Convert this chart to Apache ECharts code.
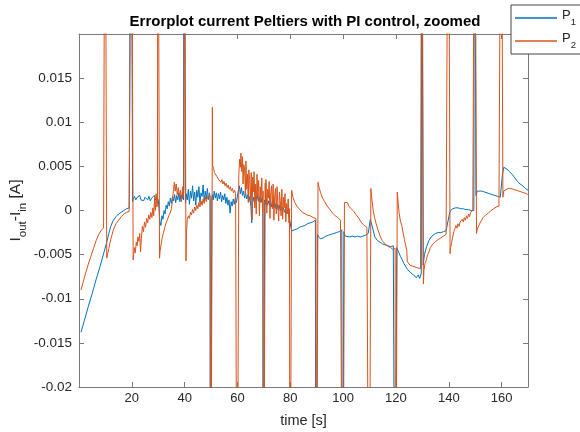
<!DOCTYPE html>
<html><head><meta charset="utf-8">
<script src="https://cdn.jsdelivr.net/npm/echarts@6/dist/echarts.min.js"></script>
<style>html,body{margin:0;padding:0;background:#fff}#c{width:580px;height:432px}</style>
</head><body><div id="c"></div>
<script>
const chartTitle = 'Errorplot current Peltiers with PI control, zoomed';
const seriesNames = ['P1', 'P2'];
const xTicks = [20, 40, 60, 80, 100, 120, 140, 160];
const yTicks = [-0.02, -0.015, -0.01, -0.005, 0, 0.005, 0.01, 0.015];

// P1: [time s, Iout-Iin A]
const p1Data = [
[0.75,-0.0138],[2,-0.0125],[3.5,-0.0109],[5,-0.0094],[6.5,-0.0078],[8,-0.0063],[9.5,-0.0047],[10.5,-0.0036],[11.3,-0.0026],[12,-0.0018],[13,-0.0011],[14,-0.0007],[15,-0.0004],[16,-0.0002],[17,0.0000],[18,0.0002],[19,0.0003],[19.6,0.0004],
[19.7,0.05],[20.0,0.05],
[20.3,0.0010],[20.5,0.0013],[21,0.0016],[21.5,0.0012],[22,0.0015],[22.5,0.0013],[23,0.0017],[23.5,0.0012],[24,0.0014],[24.5,0.0011],[25,0.0015],[25.5,0.0013],[26,0.0012],[26.5,0.0016],[27,0.0011],[27.5,0.0014],[28,0.0012],[28.5,0.0017],[29,0.0012],[29.5,0.0015],[30,0.0012],
[30.3,0.0002],[30.6,-0.0012],[31,-0.0017],[31.4,-0.0006],[31.8,-0.0010],[32.2,0.0000],[32.6,-0.0004],[33,0.0006],[33.4,0.0002],[33.8,0.0010],[34.2,0.0005],[34.6,0.0014],[35,0.0008],[35.4,0.0016],[35.8,0.0011],[36.2,0.0018],[36.6,0.0009],[37,0.0017],[37.4,0.0012],[37.8,0.0020],[38.2,0.0010],[38.6,0.0018],[39,0.0013],[39.4,0.0021],[39.6,0.0012],
[39.7,0.05],[40.0,0.05],
[40.3,0.0008],[40.6,0.0019],[41,0.0012],[41.4,0.0024],[41.8,0.0007],[42.2,0.0022],[42.6,0.0014],[43,0.0028],[43.4,0.0011],[43.8,0.0021],[44.2,0.0006],[44.6,0.0023],[45,0.0015],[45.4,0.0027],[45.8,0.0009],[46.2,0.0020],[46.6,0.0016],[47,0.0029],[47.4,0.0010],[47.8,0.0022],[48.2,0.0013],[48.6,0.0025],[49,0.0012],[49.4,0.0020],[49.6,0.0015],
[49.7,-0.05],[50.0,-0.05],
[50.3,0.0015],[50.5,0.0018],[50.8,0.0012],[51.2,0.0022],[51.6,0.0014],[52,0.0020],[52.4,0.0011],[52.8,0.0019],[53.2,0.0013],[53.6,0.0021],[54,0.0010],[54.4,0.0017],[54.8,0.0012],[55.2,0.0019],[55.6,0.0008],[56,0.0015],[56.4,0.0006],[56.8,0.0012],[57.2,-0.0003],[57.6,0.0010],[58,0.0005],[58.4,0.0013],[58.8,0.0007],[59.2,0.0014],[59.6,0.0009],
[60.3,0.0022],[60.7,0.0028],[61.1,0.0019],[61.5,0.0026],[61.9,0.0017],[62.3,0.0022],[62.7,0.0014],[63.1,0.0019],[63.5,0.0013],[63.9,0.0018],[64.3,0.0010],[64.7,0.0016],[65.1,0.0004],[65.4,-0.0014],[65.7,0.0008],[66.1,0.0015],[66.5,0.0009],[66.9,0.0016],[67.3,0.0011],[67.7,0.0017],[68.1,0.0010],[68.5,0.0015],[68.9,0.0009],[69.3,0.0014],[69.6,0.0008],
[69.7,-0.05],[70.0,-0.05],
[70.3,0.0012],[70.6,0.0007],[71,0.0013],[71.4,0.0006],[71.8,0.0011],[72.2,0.0005],[72.6,0.0010],[73,0.0004],[73.4,0.0009],[73.8,0.0003],[74.2,0.0008],[74.6,0.0002],[75,0.0007],[75.4,0.0001],[75.8,0.0006],[76.2,0.0000],[76.6,0.0004],[77,-0.0001],[77.4,0.0003],[77.8,-0.0002],[78.2,0.0002],[78.6,-0.0003],[79,0.0000],[79.4,-0.0004],[79.8,-0.0002],
[80.3,-0.0020],[80.7,-0.0023],[81.5,-0.0022],[82.5,-0.0021],[83.5,-0.0019],[84.5,-0.0018],[85.5,-0.0017],[86.5,-0.0015],[87.5,-0.0014],[88.5,-0.0013],[89.5,-0.0011],
[89.7,-0.05],[90.0,-0.05],
[90.3,-0.0027],[90.7,-0.0030],[91.5,-0.0032],[92.5,-0.0031],[93.5,-0.0029],[94.5,-0.0028],[95.5,-0.0027],[96.5,-0.0026],[97.5,-0.0025],[98.5,-0.0024],[99.5,-0.0022],
[99.7,-0.05],[100.0,-0.05],
[100.3,-0.0024],[100.8,-0.0029],[101.5,-0.0030],[102.5,-0.0030],[103.5,-0.0029],[104.5,-0.0030],[105.5,-0.0029],[106.5,-0.0030],[107.5,-0.0029],[108.5,-0.0028],[109.5,-0.0026],
[110.3,-0.0010],[110.7,-0.0008],[111.2,-0.0020],[112,-0.0030],[113,-0.0034],[114,-0.0036],[115,-0.0038],[116,-0.0039],[117,-0.0040],[118,-0.0041],[119,-0.0040],[119.6,-0.0041],
[119.7,-0.05],[120.0,-0.05],
[120.3,-0.0042],[121,-0.0047],[121.7,-0.0052],[122.4,-0.0056],[123,-0.0060],[123.6,-0.0062],[124.2,-0.0066],[124.8,-0.0065],[125.4,-0.0070],[126,-0.0068],[126.6,-0.0073],[127.2,-0.0071],[127.8,-0.0076],[128.4,-0.0073],[129,-0.0077],[129.6,-0.0071],
[129.7,0.05],[130.0,0.05],
[130.3,-0.0062],[130.8,-0.0050],[131.6,-0.0041],[132.5,-0.0034],[133.3,-0.0030],[134.1,-0.0028],[135,-0.0026],[136,-0.0025],[137,-0.0025],[138,-0.0024],[139,-0.0023],[139.7,-0.0022],
[140.3,-0.0003],[140.7,0.0000],[141.5,0.0002],[142.5,0.0003],[143.5,0.0003],[144.5,0.0002],[145.5,0.0002],[146.5,0.0001],[147.5,0.0001],[148.5,0.0000],[149.5,0.0000],
[149.7,0.05],[150.0,0.05],
[150.3,0.0017],[150.8,0.0022],[151.5,0.0023],[152.5,0.0022],[153.5,0.0021],[154.5,0.0020],[155.5,0.0019],[156.5,0.0018],[157.5,0.0017],[158.5,0.0016],[159.5,0.0015],
[160.3,0.0040],[160.8,0.0049],[161.3,0.0050],[162,0.0047],[163,0.0044],[164,0.0041],[165,0.0037],[166,0.0033],[167,0.0030],[168,0.0028],[169,0.0025],[170,0.0023]
];

// P2: [time s, Iout-Iin A]
const p2Data = [
[0.75,-0.0090],[1.5,-0.0082],[2.5,-0.0071],[3.5,-0.0061],[4.5,-0.0052],[5.5,-0.0043],[6.5,-0.0034],[7.5,-0.0027],[8.5,-0.0022],[9.3,-0.0020],[9.7,-0.0018],
[9.85,0.05],[10.15,0.05],
[10.5,-0.0054],[10.8,-0.0052],[11.3,-0.0043],[12,-0.0033],[13,-0.0022],[14,-0.0015],[15,-0.0011],[16,-0.0007],[17,-0.0004],[18,-0.0002],[19,-0.0001],[19.7,0.0000],
[19.85,0.05],[20.15,0.05],
[20.5,-0.0056],[20.7,-0.0050],[21.0,-0.0042],[21.3,-0.0048],[21.7,-0.0036],[22.0,-0.0040],[22.3,-0.0030],[22.7,-0.0035],[23.0,-0.0026],[23.3,-0.0047],[23.6,-0.0032],[24.0,-0.0018],[24.4,-0.0024],[24.8,-0.0013],[25.2,-0.0019],[25.6,-0.0009],[26,-0.0014],[26.4,-0.0005],[26.8,-0.0010],[27.2,-0.0002],[27.6,-0.0008],[28,0.0003],[28.3,-0.0006],[28.6,0.0014],[28.9,0.0000],[29.2,0.0019],[29.5,0.0004],[29.7,0.0008],
[29.85,0.05],[30.15,0.05],
[30.5,-0.0054],[30.7,-0.0046],[31.1,-0.0038],[31.5,-0.0031],[32,-0.0025],[32.5,-0.0019],[33,-0.0014],[33.5,-0.0010],[34,-0.0006],[34.5,-0.0003],[35,0.0002],[35.4,0.0012],[35.8,0.0024],[36.1,0.0032],[36.4,0.0022],[36.8,0.0030],[37.2,0.0018],[37.6,0.0026],[38,0.0016],[38.4,0.0023],[38.8,0.0010],[39.2,0.0027],[39.5,0.0015],[39.7,0.0025],
[39.85,0.05],[40.15,0.05],
[40.5,-0.0057],[40.7,-0.0025],[41,-0.0010],[41.4,-0.0006],[41.8,-0.0009],[42.2,-0.0002],[42.6,-0.0005],[43,0.0001],[43.4,-0.0003],[43.8,0.0004],[44.2,0.0000],[44.6,0.0006],[45,0.0002],[45.4,0.0009],[45.8,0.0004],[46.2,0.0011],[46.6,0.0006],[47,0.0013],[47.4,0.0008],[47.8,0.0015],[48.2,0.0010],[48.6,0.0016],[49,0.0012],[49.4,0.0018],[49.7,0.0014],
[49.85,-0.05],[50.15,-0.05],
[50.5,0.0117],[50.6,0.0051],[50.9,0.0048],[51.3,0.0043],[51.7,0.0045],[52.1,0.0039],[52.5,0.0041],[52.9,0.0035],[53.3,0.0037],[53.7,0.0032],[54.1,0.0035],[54.5,0.0030],[54.9,0.0033],[55.3,0.0028],[55.7,0.0031],[56.1,0.0026],[56.5,0.0029],[56.9,0.0024],[57.3,0.0027],[57.7,0.0022],[58.1,0.0025],[58.5,0.0020],[58.9,0.0023],[59.3,0.0019],[59.7,0.0021],
[59.85,-0.05],[60.15,-0.05],
[60.5,0.0040],[60.8,0.0058],[61.1,0.0049],[61.3,0.0065],[61.6,0.0044],[61.9,0.0061],[62.1,0.0030],[62.4,0.0052],[62.7,0.0047],[63.0,0.0018],[63.2,0.0056],[63.5,0.0024],[63.8,0.0041],[64.1,0.0009],[64.3,0.0046],[64.6,0.0035],[64.9,0.0012],[65.2,0.0043],[65.5,-0.0010],[65.8,0.0038],[66.0,0.0021],[66.3,0.0044],[66.6,0.0003],[66.9,0.0030],[67.1,-0.0004],[67.4,0.0041],[67.7,0.0016],[68.0,0.0034],[68.3,-0.0006],[68.6,0.0027],[68.9,0.0010],[69.2,0.0037],[69.5,-0.0002],[69.7,0.0022],
[69.85,-0.05],[70.15,-0.05],
[70.5,0.0031],[70.6,0.0008],[70.8,0.0035],[71.1,-0.0003],[71.4,0.0024],[71.7,0.0014],[72.0,0.0033],[72.3,-0.0009],[72.6,0.0020],[72.9,0.0028],[73.2,0.0002],[73.5,0.0030],[73.8,-0.0011],[74.1,0.0017],[74.4,0.0025],[74.7,-0.0004],[75.0,0.0027],[75.3,0.0006],[75.6,-0.0012],[75.9,0.0021],[76.2,0.0011],[76.5,-0.0006],[76.8,0.0024],[77.1,-0.0010],[77.4,0.0015],[77.7,0.0003],[78.0,0.0019],[78.3,-0.0013],[78.6,0.0008],[78.9,-0.0004],[79.2,0.0013],[79.5,-0.0014],[79.7,0.0002],
[79.85,-0.05],[80.15,-0.05],
[80.5,0.0023],[81,0.0015],[81.7,0.0009],[82.5,0.0005],[83.3,0.0002],[84.2,-0.0001],[85.2,-0.0003],[86.3,-0.0005],[87.5,-0.0006],[88.7,-0.0008],[89.7,-0.0009],
[89.85,-0.05],[90.15,-0.05],
[90.5,0.0032],[90.9,0.0026],[91.5,0.0020],[92.2,0.0014],[93,0.0010],[94,0.0005],[95,0.0001],[96,-0.0003],[97,-0.0006],[98,-0.0008],[99,-0.0011],[99.7,-0.0013],
[99.85,-0.05],[100.15,-0.05],
[100.5,0.0009],[100.8,0.0011],[101.2,0.0008],[101.6,0.0009],[102.2,0.0005],[103,0.0002],[104,-0.0001],[105,-0.0005],[106,-0.0009],[107,-0.0014],[108,-0.0017],[109,-0.0019],[109.7,-0.0020],
[109.85,-0.05],[110.15,-0.05],
[110.5,0.0025],[110.9,0.0012],[111.4,0.0000],[111.9,-0.0008],[112.5,-0.0015],[113.2,-0.0022],[114,-0.0029],[114.8,-0.0034],[115.6,-0.0037],[116.4,-0.0039],[117.2,-0.0041],[118,-0.0042],[118.8,-0.0044],[119.4,-0.0045],[119.7,-0.0043],
[119.85,-0.05],[120.15,-0.05],
[120.5,0.0021],[120.8,0.0010],[121.2,-0.0003],[121.7,-0.0012],[122.2,-0.0017],[122.7,-0.0025],[123.2,-0.0033],[123.7,-0.0040],[124.1,-0.0045],[124.3,-0.0058],[124.8,-0.0060],[125.3,-0.0062],[125.8,-0.0061],[126.3,-0.0063],[126.8,-0.0062],[127.3,-0.0064],[127.8,-0.0063],[128.3,-0.0065],[128.8,-0.0064],[129.3,-0.0066],[129.7,-0.0066],
[129.85,0.05],[130.15,0.05],
[130.4,-0.0083],[130.6,-0.0068],[131,-0.0060],[131.5,-0.0056],[132,-0.0050],[132.5,-0.0047],[133,-0.0042],[133.5,-0.0041],[134,-0.0038],[134.5,-0.0039],[135,-0.0035],[135.5,-0.0036],[136,-0.0033],[136.5,-0.0034],[137,-0.0031],[137.5,-0.0033],[138,-0.0029],[138.5,-0.0031],[139,-0.0027],[139.5,-0.0029],[139.7,-0.0026],
[139.85,0.05],[140.15,0.05],
[140.5,-0.0049],[140.7,-0.0042],[141.1,-0.0036],[141.5,-0.0030],[141.9,-0.0024],[142.3,-0.0021],[142.7,-0.0017],[143.1,-0.0020],[143.5,-0.0015],[143.9,-0.0018],[144.3,-0.0013],[144.7,-0.0015],[145.1,-0.0010],[145.5,-0.0013],[145.9,-0.0008],[146.3,-0.0011],[146.7,-0.0006],[147.1,-0.0009],[147.5,-0.0004],[147.9,-0.0007],[148.3,-0.0002],[148.7,-0.0004],[149.1,0.0000],[149.5,-0.0002],[149.7,0.0001],
[149.85,0.05],[150.15,0.05],
[150.5,-0.0026],[150.8,-0.0021],[151.4,-0.0017],[152.2,-0.0012],[153,-0.0008],[154,-0.0005],[155,-0.0003],[156,0.0000],[157,0.0002],[158,0.0004],[159,0.0005],[159.7,0.0006],
[159.85,0.05],[160.15,0.05],
[160.5,0.0015],[160.8,0.0022],[161.5,0.0024],[162.5,0.0025],[163.5,0.0025],[164.5,0.0024],[165.5,0.0023],[166.5,0.0022],[167.5,0.0021],[168.5,0.0020],[169.5,0.0019],[170,0.0018]
];

const FONT = 'Liberation Sans, Arial, Helvetica, sans-serif';
const TXT = '#262626';
const AX = '#7a7a7a';

const chart = echarts.init(document.getElementById('c'), null, {renderer: 'canvas'});

function subRich(size, subSize, lh) {
  return {
    m: {fontSize: size, fontFamily: FONT, color: TXT, lineHeight: lh, verticalAlign: 'top'},
    s: {fontSize: subSize, fontFamily: FONT, color: TXT, lineHeight: subSize, verticalAlign: 'bottom'}
  };
}

const axisCommon = {
  axisLine: {show: true, onZero: false, lineStyle: {color: AX, width: 1}},
  axisTick: {show: true, inside: true, length: 5, lineStyle: {color: AX, width: 1}},
  splitLine: {show: false}
};

chart.setOption({
  animation: false,
  backgroundColor: '#fff',
  title: {
    text: chartTitle,
    left: 305, top: 14, padding: 0,
    textAlign: 'center',
    textStyle: {fontFamily: FONT, fontSize: 15, fontWeight: 'bold', color: '#000'}
  },
  legend: {
    orient: 'vertical',
    left: 511, top: 5,
    padding: [4, 6, 4, 4],
    itemWidth: 42, itemHeight: 1.5,
    itemGap: 5,
    icon: 'rect',
    backgroundColor: '#fff',
    borderColor: '#444', borderWidth: 1, borderRadius: 0,
    data: seriesNames,
    formatter: function (n) { return '{m|' + n.charAt(0) + '}{s|' + n.slice(1) + '}'; },
    textStyle: {rich: subRich(13, 9.5, 18)}
  },
  grid: {left: 79, right: 52, top: 34, bottom: 45, containLabel: false, outerBoundsMode: 'none'},
  xAxis: [
    Object.assign({
      type: 'value', min: 0, max: 170, interval: 20, position: 'bottom',
      name: 'time [s]', nameLocation: 'middle', nameGap: 26,
      nameTextStyle: {fontFamily: FONT, fontSize: 14.5, color: TXT},
      axisLabel: {
        margin: 5, fontFamily: FONT, fontSize: 13, color: TXT,
        formatter: function (v) { return xTicks.indexOf(Math.round(v)) >= 0 && Math.abs(v - Math.round(v)) < 1e-6 ? String(Math.round(v)) : ''; }
      }
    }, axisCommon),
    Object.assign({
      type: 'value', min: 0, max: 170, interval: 20, position: 'top',
      axisLabel: {show: false}
    }, axisCommon)
  ],
  yAxis: [
    Object.assign({
      type: 'value', min: -0.02, max: 0.02, interval: 0.005, position: 'left',
      name: '{m|I}{s|out}{m|-I}{s|in}{m| [A]}', nameLocation: 'middle', nameGap: 50,
      nameMoveOverlap: false,
      nameTextStyle: {rich: subRich(15.5, 11.5, 21)},
      axisLabel: {
        margin: 7, fontFamily: FONT, fontSize: 13.5, color: TXT, showMaxLabel: false,
        formatter: function (v) {
          for (const t of yTicks) { if (Math.abs(t - v) < 1e-9) return String(+t.toFixed(4)); }
          return '';
        }
      }
    }, axisCommon),
    Object.assign({
      type: 'value', min: -0.02, max: 0.02, interval: 0.005, position: 'right',
      axisLabel: {show: false}
    }, axisCommon)
  ],
  series: [
    {name: seriesNames[0], type: 'line', data: p1Data, xAxisIndex: 0, yAxisIndex: 0,
     showSymbol: false, symbol: 'none', clip: true, silent: true,
     lineStyle: {color: '#0072BD', width: 1}, itemStyle: {color: '#0072BD'}},
    {name: seriesNames[1], type: 'line', data: p2Data, xAxisIndex: 0, yAxisIndex: 0,
     showSymbol: false, symbol: 'none', clip: true, silent: true,
     lineStyle: {color: '#D95319', width: 1}, itemStyle: {color: '#D95319'}}
  ]
});
</script>
</body></html>
